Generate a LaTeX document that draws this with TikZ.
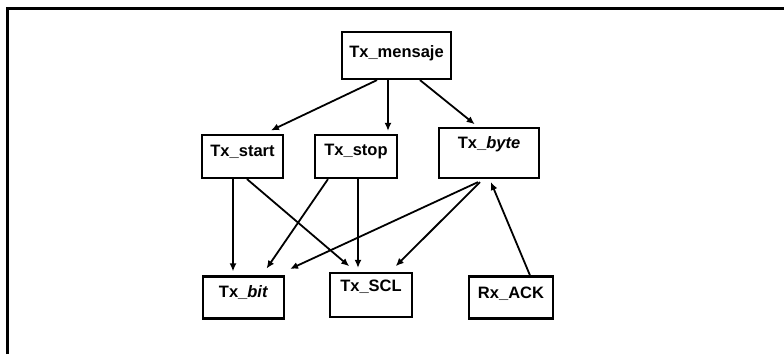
\documentclass[tikz,border=0pt]{standalone}
\usepackage{fontspec}
\setmainfont{Liberation Sans}
\usetikzlibrary{arrows.meta}
\begin{document}
\begin{tikzpicture}[x=1pt,y=-1pt,
  blk/.style={draw,line width=2.2pt,minimum width=#1,inner sep=0pt},
  txt/.style={inner sep=0pt,font=\fontsize{16.5}{20}\selectfont\bfseries},
  link/.style={line width=1.8pt,-{Latex[length=8pt,width=7pt]},shorten >=1pt}]
\useasboundingbox (0,0) rectangle (784,354);
\fill[white] (0,0) rectangle (784,354);
% frame edges
\draw[line width=3pt] (7.5,354) -- (7.5,8) -- (784,8);
% module boxes
\node[blk=109pt,minimum height=47pt] (men) at (396.5,55.5) {};
\node[blk=81pt,minimum height=43pt] (sta) at (242.5,156.5) {};
\node[blk=82pt,minimum height=43pt] (sto) at (356,156.5) {};
\node[blk=100pt,minimum height=50pt] (byt) at (489,153) {};
\node[blk=81pt,minimum height=42pt] (bit) at (243.5,297.5) {};
\node[blk=82pt,minimum height=44pt] (scl) at (371,295) {};
\node[blk=84pt,minimum height=42pt] (ack) at (511,297.5) {};
% module names, set a little above each box centre
\node[txt] (men-t) at ([yshift=2pt]men.center) {Tx\_mensaje};
\node[txt] (sta-t) at ([yshift=5pt]sta.center) {Tx\_start};
\node[txt] (sto-t) at ([yshift=5pt]sto.center) {Tx\_stop};
\node[txt] (byt-t) at ([yshift=9pt]byt.center) {Tx\_\textit{byte}};
\node[txt] (bit-t) at ([yshift=5pt]bit.center) {Tx\_\textit{bit}};
\node[txt] (scl-t) at ([yshift=8pt]scl.center) {Tx\_SCL};
\node[txt] (ack-t) at ([yshift=4pt]ack.center) {Rx\_ACK};
% calls
\draw[link] ([xshift=-19.5pt]men.south) -- ([xshift=27.5pt,yshift=3pt]sta.north);
\draw[link] ([xshift=-8.5pt]men.south) -- ([xshift=32pt,yshift=2pt]sto.north);
\draw[link] ([xshift=23.5pt]men.south) -- ([xshift=-13.5pt,yshift=2pt]byt.north);
\draw[link] ([xshift=-9.5pt]sta.south) -- ([xshift=-10.5pt,yshift=3pt]bit.north);
\draw[link] ([xshift=4.5pt]sta.south) -- ([xshift=-21pt,yshift=5pt]scl.north);
\draw[link] ([xshift=-28pt]sto.south) -- ([xshift=22.5pt,yshift=6pt]bit.north);
\draw[link] ([xshift=2pt]sto.south) -- ([xshift=-13pt,yshift=3pt]scl.north);
\draw[link] ([xshift=-11pt,yshift=-3pt]byt.south) -- ([xshift=4pt,yshift=6pt]bit.north east);
\draw[link] ([xshift=-9pt,yshift=-3pt]byt.south) -- ([xshift=24pt,yshift=5pt]scl.north);
\draw[link] ([xshift=19pt]ack.north) -- ([xshift=1.5pt,yshift=-2pt]byt.south);
\end{tikzpicture}
\end{document}
